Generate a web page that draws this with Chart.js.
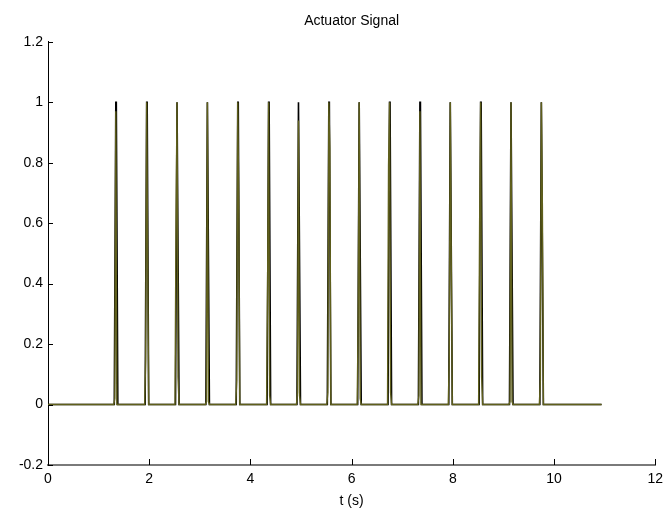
<!DOCTYPE html>
<html>
<head>
<meta charset="utf-8">
<script src="https://cdn.jsdelivr.net/npm/chart.js@4/dist/chart.umd.min.js"></script>
<style>
  html, body { margin: 0; padding: 0; background: #ffffff; }
  #wrap { width: 669px; height: 508px; }
</style>
</head>
<body>
<div id="wrap"><canvas id="c" width="669" height="508"></canvas></div>
<script>
// Actuator firing times (s) and the levels recorded around each pulse
const pulseTimes  = [1.34, 1.95, 2.55, 3.15, 3.75, 4.36, 4.95, 5.55, 6.15, 6.75, 7.35, 7.95, 8.55, 9.15, 9.75];
// commanded signal: full-height pulses
const commandPeak = [1, 1, 1, 1, 1, 1, 1, 1, 1, 1, 1, 1, 1, 1, 1];
// sampled signal: leading-edge sample, peak sample, trailing-edge sample
const sampledLead  = [0.02, 0.15, 0.60, 0.01, 0.08, 0.40, 0.04, 0.04, 0.28, 0.79, 0.03, 0.15, 0.60, 0.01, 0.08];
const sampledPeak  = [0.97, 1.00, 1.00, 1.00, 1.00, 1.00, 0.94, 1.00, 1.00, 1.00, 0.97, 1.00, 1.00, 1.00, 1.00];
const sampledTrail = [0.00, 0.47, 0.09, 0.01, 0.66, 0.03, 0.03, 0.85, 0.02, 0.04, 0.00, 0.46, 0.09, 0.01, 0.66];
const runStart = 0;
const runEnd = 10.94;
const sampleDt = 0.02;    // logger sample period (s)

const xTicks = [0, 2, 4, 6, 8, 10, 12];
const yTicks = [-0.2, 0, 0.2, 0.4, 0.6, 0.8, 1, 1.2];

// Build the two traces from the pulse tables
function commandSeries() {
  const pts = [{ x: runStart, y: 0 }];
  pulseTimes.forEach((t, i) => {
    pts.push({ x: t - 1.5 * sampleDt, y: 0 });
    pts.push({ x: t, y: commandPeak[i] });
    pts.push({ x: t + 0.5 * sampleDt, y: commandPeak[i] });
    pts.push({ x: t + 2 * sampleDt, y: 0 });
  });
  pts.push({ x: runEnd, y: 0 });
  return pts;
}
function sampledSeries() {
  const pts = [{ x: runStart, y: 0 }];
  pulseTimes.forEach((t, i) => {
    pts.push({ x: t - 2 * sampleDt, y: 0 });
    pts.push({ x: t - sampleDt, y: sampledLead[i] });
    pts.push({ x: t, y: sampledPeak[i] });
    pts.push({ x: t + sampleDt, y: sampledTrail[i] });
    pts.push({ x: t + 2 * sampleDt, y: 0 });
  });
  pts.push({ x: runEnd, y: 0 });
  return pts;
}

const FONT = "'Liberation Sans', Arial, Helvetica, sans-serif";

// Inward-pointing tick marks, MATLAB style
const inwardTicks = {
  id: 'inwardTicks',
  afterDraw(chart) {
    const ctx = chart.ctx;
    const xs = chart.scales.x, ys = chart.scales.y;
    const area = chart.chartArea;
    ctx.save();
    ctx.strokeStyle = '#000000';
    ctx.lineWidth = 1;
    ctx.beginPath();
    xTicks.forEach(v => {
      const px = Math.round(xs.getPixelForValue(v)) + 0.5;
      ctx.moveTo(px, area.bottom);
      ctx.lineTo(px, area.bottom - 6);
    });
    yTicks.forEach(v => {
      const py = Math.round(ys.getPixelForValue(v)) + 0.5;
      ctx.moveTo(area.left, py);
      ctx.lineTo(area.left + 5, py);
    });
    ctx.stroke();
    ctx.restore();
  }
};

new Chart(document.getElementById('c'), {
  type: 'line',
  data: {
    datasets: [
      {
        label: 'sampled',
        data: sampledSeries(),
        borderColor: '#5f5f1c',
        borderWidth: 1.4,
        pointRadius: 0,
        tension: 0,
        fill: false,
        order: 0
      },
      {
        label: 'command',
        data: commandSeries(),
        borderColor: '#000000',
        borderWidth: 1.6,
        pointRadius: 0,
        tension: 0,
        fill: false,
        order: 1
      }
    ]
  },
  options: {
    responsive: false,
    animation: false,
    events: [],
    layout: { padding: { left: 0, right: 12, top: 0, bottom: 0 } },
    plugins: {
      legend: { display: false },
      tooltip: { enabled: false },
      title: {
        display: true,
        fullSize: false,
        text: 'Actuator Signal',
        color: '#000000',
        font: { family: FONT, size: 14, weight: 'normal' },
        padding: { top: 13, bottom: 12 }
      }
    },
    scales: {
      x: {
        type: 'linear',
        min: 0,
        max: 12,
        afterFit(s) { s.height = 43; },
        afterBuildTicks(s) { s.ticks = xTicks.map(v => ({ value: v })); },
        grid: { display: true, drawOnChartArea: false, drawTicks: false },
        border: { display: true, color: '#7a7a7a', width: 2 },
        ticks: {
          color: '#000000',
          padding: 6,
          maxRotation: 0,
          font: { family: FONT, size: 14 },
          callback: v => String(v)
        },
        title: {
          display: true,
          text: 't (s)',
          color: '#000000',
          padding: { top: 0, bottom: 0 },
          font: { family: FONT, size: 14, lineHeight: 1.0 }
        }
      },
      y: {
        type: 'linear',
        min: -0.2,
        max: 1.2,
        afterFit(s) { s.width = 48; },
        afterBuildTicks(s) { s.ticks = yTicks.map(v => ({ value: v })); },
        grid: { display: true, drawOnChartArea: false, drawTicks: false },
        border: { display: true, color: '#000000', width: 1 },
        ticks: {
          color: '#000000',
          padding: 5,
          font: { family: FONT, size: 14 },
          callback: v => String(Math.round(v * 10) / 10)
        }
      }
    }
  },
  plugins: [inwardTicks]
});
</script>
</body>
</html>
